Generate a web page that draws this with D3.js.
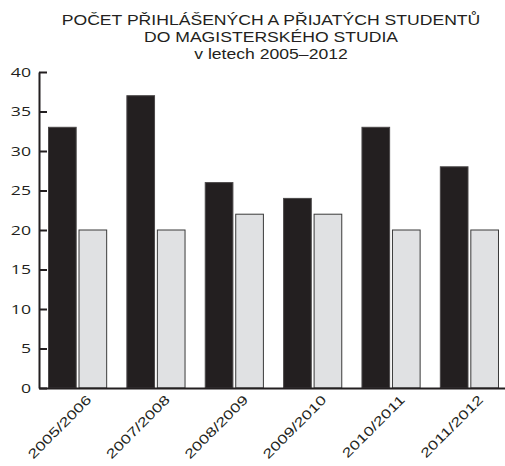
<!DOCTYPE html>
<html>
<head>
<meta charset="utf-8">
<script src="https://cdn.jsdelivr.net/npm/d3@7"></script>
<style>
  html, body { margin: 0; padding: 0; background: #fff; }
  svg { display: block; font-family: "Open Sans", "Noto Sans", sans-serif; }
</style>
</head>
<body>
<svg id="chart" width="505" height="466"></svg>
<script>
// Academic years and applicant / admitted counts
const years = ["2005/2006", "2007/2008", "2008/2009", "2009/2010", "2010/2011", "2011/2012"];
const prihlaseni = [33, 37, 26, 24, 33, 28];
const prijati = [20, 20, 22, 22, 20, 20];
const yTicks = [0, 5, 10, 15, 20, 25, 30, 35, 40];
const titleLines = [
  "POČET PŘIHLÁŠENÝCH A PŘIJATÝCH STUDENTŮ",
  "DO MAGISTERSKÉHO STUDIA",
  "v letech 2005–2012"
];

const rows = years.map((y, i) => ({ year: y, values: [prihlaseni[i], prijati[i]] }));
const fills = ["#231f20", "#e0e1e3"];
const ink = "#231f20";
const stretch = 1.36;      // wide set type for axis labels
const titleWidth = 419;    // width of the first title line

const svg = d3.select("#chart");
const margin = { left: 39, top: 72, bottom: 388, right: 508 };

const x = d3.scaleBand()
  .domain(years)
  .range([margin.left, margin.right])
  .paddingInner(0.245)
  .paddingOuter(0.115);

const xInner = d3.scaleBand()
  .domain([0, 1])
  .range([0, x.bandwidth()])
  .paddingInner(0.06);

const y = d3.scaleLinear().domain([0, 40]).range([margin.bottom, margin.top]);

// title, horizontally stretched so the first line fills its measure
const title = svg.append("g")
  .selectAll("text")
  .data(titleLines)
  .join("text")
  .attr("text-anchor", "middle")
  .attr("font-family", "'Liberation Sans', Arial, sans-serif")
  .attr("font-size", 14.5)
  .attr("fill", ink)
  .text(d => d);
const firstLen = title.node().getComputedTextLength() || titleWidth / 1.1;
const titleStretch = titleWidth / firstLen;
title.attr("transform", (d, i) => `translate(271,${25 + i * 17}) scale(${titleStretch},1)`);

// bars
const groups = svg.append("g")
  .selectAll("g")
  .data(rows)
  .join("g")
  .attr("transform", d => `translate(${x(d.year)},0)`);

groups.selectAll("rect")
  .data(d => d.values)
  .join("rect")
  .attr("x", (d, i) => xInner(i) + 0.5)
  .attr("y", d => y(d))
  .attr("width", xInner.bandwidth() - 1)
  .attr("height", d => y(0) - y(d))
  .attr("fill", (d, i) => fills[i])
  .attr("stroke", (d, i) => i === 0 ? "#4a4748" : "#3a3a3a")
  .attr("stroke-width", 1);

// y axis
const yAxis = d3.axisLeft(y)
  .tickValues(yTicks)
  .tickSizeInner(-8)
  .tickSizeOuter(0);

const gy = svg.append("g")
  .attr("transform", `translate(${margin.left},0)`)
  .call(yAxis);
gy.select(".domain").attr("stroke", ink).attr("stroke-width", 2);
gy.selectAll(".tick line").attr("stroke", ink).attr("stroke-width", 2);
gy.selectAll(".tick text")
  .attr("x", 0)
  .attr("transform", `translate(-8,0) scale(${stretch},1)`)
  .attr("font-size", 13)
  .attr("fill", ink)
  .attr("font-family", "Open Sans, sans-serif");

// x axis
const xAxis = d3.axisBottom(x).tickSize(0).tickSizeOuter(0);
const gx = svg.append("g")
  .attr("transform", `translate(0,${margin.bottom})`)
  .call(xAxis);
gx.select(".domain").attr("stroke", ink).attr("stroke-width", 2);
gx.selectAll(".tick text")
  .attr("x", 0)
  .attr("y", 0)
  .attr("dy", "0.72em")
  .attr("font-size", 13)
  .attr("fill", ink)
  .attr("text-anchor", "end")
  .attr("transform", `translate(8,6) rotate(-45) scale(${stretch},1)`);
</script>
</body>
</html>
